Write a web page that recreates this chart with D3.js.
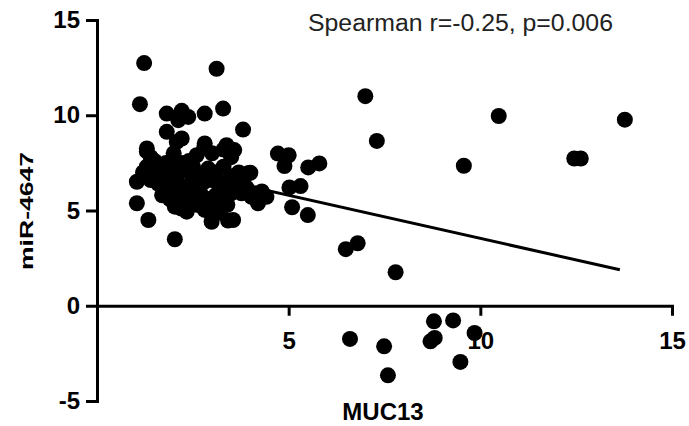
<!DOCTYPE html>
<html>
<head>
<meta charset="utf-8">
<script src="https://cdn.jsdelivr.net/npm/d3@7"></script>
<style>
  html, body { margin: 0; padding: 0; background: #fff; }
  svg { display: block; }
  text { font-family: "Liberation Sans", Arial, sans-serif; }
</style>
</head>
<body>
<svg id="chart" width="689" height="426"></svg>
<script>
// ---- data ----
const muc13 = [
  // right-hand outliers
  7.0, 7.3, 10.48, 13.77, 9.57, 12.45, 12.62, 6.49, 6.8, 7.79,
  // below zero
  6.6, 7.49, 7.59, 8.79, 8.7, 8.81, 9.29, 9.48, 9.85,
  // middle
  3.81, 4.72, 5.0, 4.89, 5.51, 5.8, 4.0, 5.02, 5.31, 5.09, 5.5, 4.2, 4.42, 4.03, 3.77, 3.58, 3.55, 3.55,
  // upper left
  1.23, 3.12, 1.12, 1.82, 2.21, 2.38, 2.12, 2.81, 3.29, 1.82, 2.21, 2.81, 1.3, 3.38,
  // lower left
  1.04, 1.04, 1.34, 2.03, 2.99, 3.42, 2.34, 2.03, 2.81, 3.94, 3.46, 2.08,
  // dense cluster
  1.3, 1.4, 1.5, 1.3, 1.6, 1.8, 2.0, 2.2, 2.4, 2.0, 2.6, 2.8, 3.0, 3.3, 3.5,
  1.5, 1.7, 1.9, 2.1, 2.3, 2.5, 2.7, 2.9, 3.1, 3.3, 3.5, 3.7,
  1.6, 1.8, 2.0, 2.2, 2.4, 2.6, 2.8, 3.0, 3.2, 3.4, 3.6,
  1.7, 1.9, 2.1, 2.3, 2.5, 2.7, 2.9, 3.1, 3.3, 3.5,
  2.2, 2.6, 3.0, 3.2, 3.4, 1.9, 2.5, 3.9, 4.1, 4.3, 3.8, 1.2, 1.4
];
const mir4647 = [
  11.0, 8.65, 9.96, 9.77, 7.35, 7.73, 7.73, 2.97, 3.28, 1.76,
  -1.74, -2.13, -3.65, -0.82, -1.87, -1.69, -0.77, -2.95, -1.43,
  9.25, 7.99, 7.9, 7.33, 7.26, 7.47, 6.98, 6.21, 6.28, 5.17, 4.76, 5.38, 5.72, 5.72, 5.9, 8.17, 6.44, 4.5,
  12.74, 12.44, 10.58, 10.09, 10.23, 9.91, 9.74, 10.09, 10.35, 9.13, 8.78, 8.52, 8.26, 8.43,
  6.51, 5.38, 4.5, 3.49, 4.41, 4.47, 4.94, 5.2, 5.03, 6.95, 8.17, 8.6,
  8.1, 7.8, 7.6, 7.3, 7.4, 7.5, 7.4, 7.5, 7.6, 8.0, 7.9, 8.3, 8.0, 8.2, 7.8,
  6.9, 7.0, 6.8, 6.9, 7.1, 6.7, 6.9, 7.2, 7.0, 7.3, 6.8, 7.0,
  6.4, 6.2, 6.5, 6.3, 6.0, 6.3, 6.5, 6.6, 6.2, 6.5, 6.0,
  5.8, 5.6, 5.9, 5.5, 5.7, 5.9, 5.6, 5.8, 5.5, 5.9,
  5.1, 5.3, 5.2, 4.9, 5.3, 6.0, 7.3, 6.2, 5.9, 6.0, 6.6, 7.0, 6.6
];
// fitted regression line end points
const fitX = [1.25, 13.64];
const fitY = [7.49, 1.89];

const xTicks = [5, 10, 15];
const yTicks = [-5, 0, 5, 10, 15];
const xTitle = "MUC13";
const yTitle = "miR-4647";
const note = "Spearman r=-0.25, p=0.006";

// ---- drawing ----
const svg = d3.select("#chart");
const x = d3.scaleLinear().domain([0, 15]).range([97, 672]);
const y = d3.scaleLinear().domain([-5, 15]).range([401, 20]);
const fmt = d => String(d);

const yAxis = svg.append("g")
  .attr("transform", `translate(${x(0)},0)`)
  .call(d3.axisLeft(y).tickValues(yTicks).tickFormat(fmt).tickSize(11).tickSizeOuter(0).tickPadding(6));
const xAxis = svg.append("g")
  .attr("transform", `translate(0,${y(0)})`)
  .call(d3.axisBottom(x).tickValues(xTicks).tickFormat(fmt).tickSize(10).tickSizeOuter(0).tickPadding(16));

[xAxis, yAxis].forEach(g => {
  g.select(".domain").attr("stroke", "#000").attr("stroke-width", 3).attr("stroke-linecap", "square");
  g.selectAll(".tick line").attr("stroke", "#000").attr("stroke-width", 3);
  g.selectAll(".tick text")
    .attr("fill", "#000")
    .style("font-family", "'Liberation Sans', Arial, sans-serif")
    .style("font-size", "24px")
    .style("font-weight", "bold");
});

// regression line
const pts = fitX.map((v, i) => [v, fitY[i]]);
svg.append("path")
  .attr("d", d3.line().x(d => x(d[0])).y(d => y(d[1]))(pts))
  .attr("stroke", "#000").attr("stroke-width", 3).attr("fill", "none");

// points
svg.append("g").selectAll("circle")
  .data(muc13.map((v, i) => [v, mir4647[i]]))
  .join("circle")
  .attr("cx", d => x(d[0]))
  .attr("cy", d => y(d[1]))
  .attr("r", 8)
  .attr("fill", "#000");

// titles
svg.append("text")
  .attr("x", 383).attr("y", 420)
  .attr("text-anchor", "middle")
  .style("font-size", "24px").style("font-weight", "bold")
  .text(xTitle);

svg.append("text")
  .attr("transform", "translate(33,211) rotate(-90)")
  .attr("text-anchor", "middle")
  .attr("textLength", 118).attr("lengthAdjust", "spacingAndGlyphs")
  .style("font-size", "18px").style("font-weight", "bold")
  .text(yTitle);

svg.append("text")
  .attr("x", 308).attr("y", 31)
  .attr("textLength", 305).attr("lengthAdjust", "spacingAndGlyphs")
  .attr("fill", "#222")
  .style("font-size", "23px")
  .text(note);
</script>
</body>
</html>
